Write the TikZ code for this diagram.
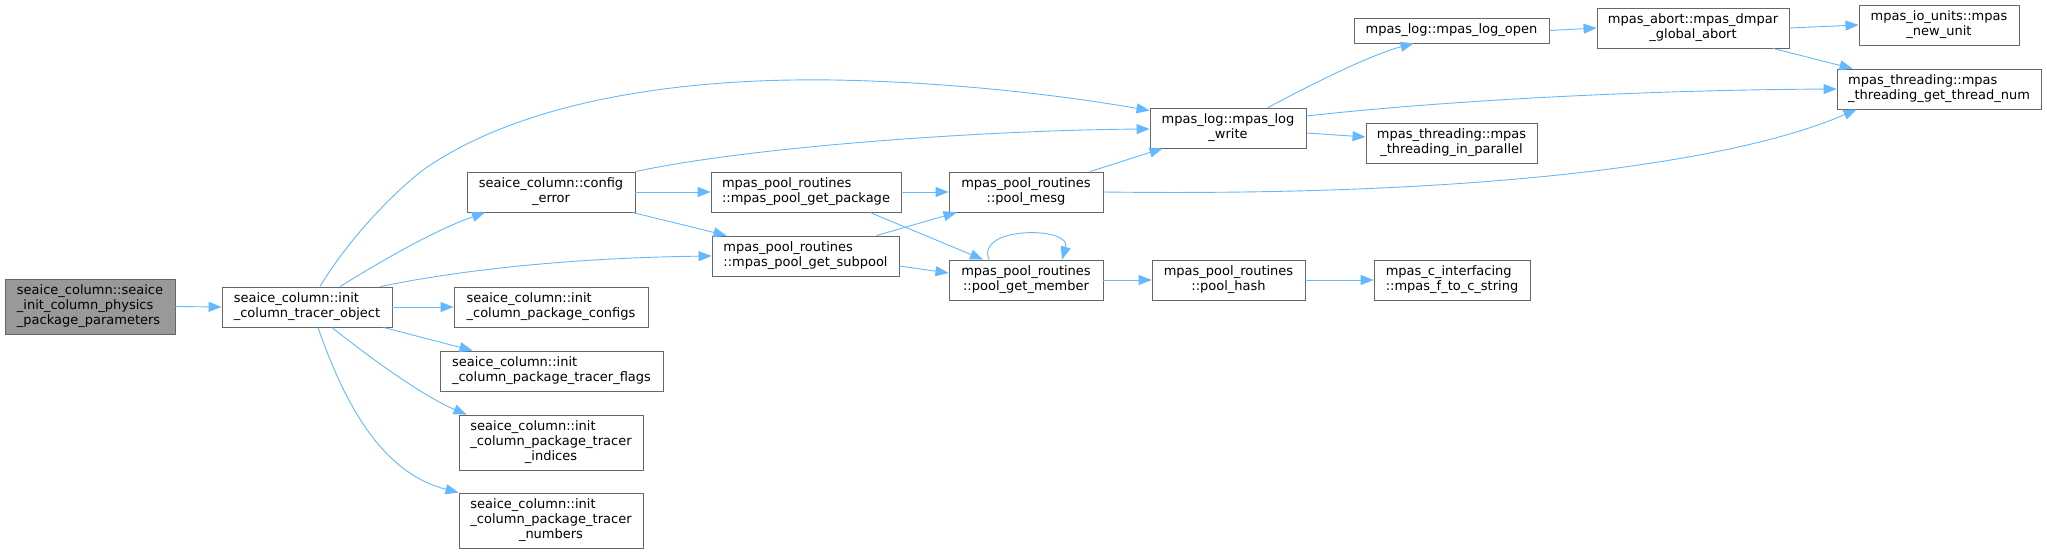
\documentclass[tikz,border=0pt]{standalone}
\usepackage{fontspec}
\newfontfamily\djv{DejaVu Sans}
\usetikzlibrary{arrows.meta,calc}
\definecolor{edgec}{HTML}{63B8FF}
\definecolor{bordc}{HTML}{666666}
\definecolor{rootc}{HTML}{999999}
\tikzset{
  box/.style={draw=bordc, fill=white, line width=0.9pt, inner sep=0pt,
    font=\djv\fontsize{13}{15}\selectfont, text=black},
  rootbox/.style={box, fill=rootc},
  edge/.style={draw=edgec, line width=0.9pt, -{Triangle[length=13pt,width=10pt]}}
}
\begin{document}
\begin{tikzpicture}[x=1pt,y=-1pt]
\useasboundingbox (0,0) rectangle (2047,554);
% nodes
\node[rootbox, align=left, minimum width=170, minimum height=55] (root) at (90,306.5)
  {seaice\_column::seaice\\\_init\_column\_physics\\\_package\_parameters};
\node[box, align=left, minimum width=170, minimum height=40] (tobj) at (307,307)
  {seaice\_column::init\\\_column\_tracer\_object};
\node[box, align=center, minimum width=168, minimum height=40] (cerr) at (551,192)
  {seaice\_column::config\\\_error};
\node[box, align=left, minimum width=190, minimum height=40] (gpkg) at (806,192)
  {mpas\_pool\_routines\\::mpas\_pool\_get\_package};
\node[box, align=left, minimum width=187, minimum height=40] (gsub) at (805.5,256)
  {mpas\_pool\_routines\\::mpas\_pool\_get\_subpool};
\node[box, align=left, minimum width=194, minimum height=40] (cfg) at (551,307)
  {seaice\_column::init\\\_column\_package\_configs};
\node[box, align=left, minimum width=223, minimum height=40] (flags) at (551.5,371)
  {seaice\_column::init\\\_column\_package\_tracer\_flags};
\node[box, minimum width=184, minimum height=55] (ind) at (551,442.5)
  {\begin{tabular}{@{}l@{}}seaice\_column::init\\\_column\_package\_tracer\\\multicolumn{1}{@{}c@{}}{\_indices}\end{tabular}};
\node[box, minimum width=184, minimum height=55] (num) at (551,520.5)
  {\begin{tabular}{@{}l@{}}seaice\_column::init\\\_column\_package\_tracer\\\multicolumn{1}{@{}c@{}}{\_numbers}\end{tabular}};
\node[box, align=center, minimum width=154, minimum height=40] (mesg) at (1026,192)
  {mpas\_pool\_routines\\::pool\_mesg};
\node[box, align=center, minimum width=154, minimum height=40] (member) at (1026,280)
  {mpas\_pool\_routines\\::pool\_get\_member};
\node[box, align=center, minimum width=156, minimum height=40] (logw) at (1228,128)
  {mpas\_log::mpas\_log\\\_write};
\node[box, align=center, minimum width=195, minimum height=25] (logo) at (1451.5,30.5)
  {mpas\_log::mpas\_log\_open};
\node[box, align=center, minimum width=171, minimum height=40] (par) at (1451.5,143)
  {mpas\_threading::mpas\\\_threading\_in\_parallel};
\node[box, align=center, minimum width=192, minimum height=40] (abort) at (1693,28)
  {mpas\_abort::mpas\_dmpar\\\_global\_abort};
\node[box, align=center, minimum width=160, minimum height=40] (unit) at (1939,25)
  {mpas\_io\_units::mpas\\\_new\_unit};
\node[box, align=left, minimum width=204, minimum height=40] (thr) at (1939,89)
  {mpas\_threading::mpas\\\_threading\_get\_thread\_num};
\node[box, align=center, minimum width=153, minimum height=40] (hash) at (1228.5,280)
  {mpas\_pool\_routines\\::pool\_hash};
\node[box, align=left, minimum width=156, minimum height=40] (f2c) at (1452,280)
  {mpas\_c\_interfacing\\::mpas\_f\_to\_c\_string};
% edges
\draw[edge] (root.east) -- (tobj.west);
\draw[edge] ($(tobj.north)+(33,0)$) .. controls (375,265) and (430,232) .. ($(cerr.south)+(-66,0)$);
\draw[edge] ($(tobj.north)+(13,0)$) .. controls (345,245) and (385,200) .. (423,170)
  .. controls (530,95) and (700,78) .. (833,80)
  .. controls (950,82) and (1060,95) .. ($(logw.north west)+(0,3)$);
\draw[edge] (cerr.north east) .. controls (760,145) and (1000,130) .. ($(logw.west)+(0,1)$);
\draw[edge] (cerr.east) -- (gpkg.west);
\draw[edge] ($(cerr.south east)+(-3,0)$) -- ($(gsub.north west)+(15,0)$);
\draw[edge] ($(tobj.north east)+(-12,0)$) .. controls (450,272) and (560,258) .. (gsub.west);
\draw[edge] (tobj.east) -- (cfg.west);
\draw[edge] ($(tobj.south east)+(-9,0)$) -- ($(flags.north west)+(33,0)$);
\draw[edge] ($(tobj.south)+(25,0)$) .. controls (360,350) and (420,395) .. ($(ind.north west)+(8,0)$);
\draw[edge] ($(tobj.south)+(11,0)$) .. controls (350,420) and (390,475) .. (num.north west);
\draw[edge] (gpkg.east) -- (mesg.west);
\draw[edge] ($(gpkg.south)+(64,0)$) -- ($(member.north)+(-43,0)$);
\draw[edge] ($(gsub.north)+(71,0)$) -- ($(mesg.south west)+(8,0)$);
\draw[edge] ($(gsub.east)+(0,10)$) -- ($(member.west)+(0,-7)$);
\draw[edge] ($(member.north)+(-37,0)$) .. controls (975,226) and (1072,226) .. ($(member.north)+(36,0)$);
\draw[edge] ($(mesg.north)+(64,0)$) -- ($(logw.south west)+(13,0)$);
\draw[edge] (mesg.east) .. controls (1500,197) and (1740,160) .. ($(thr.south west)+(20,0)$);
\draw[edge] ($(logw.east)+(0,-12)$) .. controls (1450,100) and (1650,90) .. (thr.west);
\draw[edge] ($(logw.north)+(40,0)$) .. controls (1310,85) and (1370,55) .. ($(logo.south)+(-38,0)$);
\draw[edge] ($(logw.east)+(0,5)$) -- ($(par.west)+(0,-6)$);
\draw[edge] (logo.east) -- (abort.west);
\draw[edge] (abort.east) -- (unit.west);
\draw[edge] ($(abort.south)+(80,0)$) -- ($(thr.north west)+(16,0)$);
\draw[edge] (member.east) -- (hash.west);
\draw[edge] (hash.east) -- (f2c.west);
\end{tikzpicture}
\end{document}
